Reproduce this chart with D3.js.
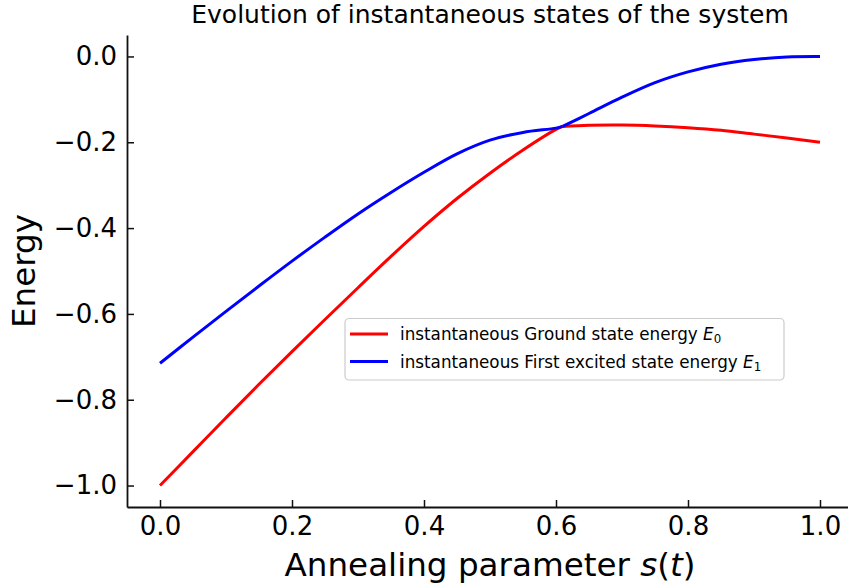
<!DOCTYPE html>
<html>
<head>
<meta charset="utf-8">
<script src="https://cdn.jsdelivr.net/npm/d3@7"></script>
<style>
  html, body { margin: 0; padding: 0; background: #fff; }
  svg { display: block; font-family: "DejaVu Sans", sans-serif; }
</style>
</head>
<body>
<svg id="chart" width="848" height="586"></svg>
<script>
// Annealing parameter samples
const sValues = [0, 0.05, 0.10, 0.15, 0.20, 0.25, 0.30, 0.35, 0.40, 0.45, 0.50, 0.55, 0.60, 0.61,
                 0.65, 0.70, 0.75, 0.80, 0.85, 0.90, 0.95, 1.00];
// Instantaneous ground state energy E0
const groundEnergy = [-1.000, -0.921, -0.842, -0.764, -0.688, -0.613, -0.539, -0.466, -0.396, -0.331,
                      -0.272, -0.218, -0.170, -0.163, -0.1605, -0.160, -0.162, -0.166, -0.172, -0.181,
                      -0.190, -0.200];
// Instantaneous first excited state energy E1
const excitedEnergy = [-0.715, -0.654, -0.594, -0.535, -0.477, -0.421, -0.367, -0.317, -0.270, -0.227,
                       -0.195, -0.177, -0.167, -0.163, -0.133, -0.095, -0.061, -0.036, -0.018, -0.007,
                       -0.001, 0.000];
// Level crossing point where the two curves meet
const crossingS = 0.61;
const xTicks = [0, 0.2, 0.4, 0.6, 0.8, 1.0];
const yTicks = [0, -0.2, -0.4, -0.6, -0.8, -1.0];
const seriesNames = ["instantaneous Ground state energy ", "instantaneous First excited state energy "];
const seriesSubs = ["0", "1"];
const seriesColors = ["#ff0000", "#0000ff"];

const svg = d3.select("#chart");
const plotLeft = 127, plotRight = 853, plotTop = 35, plotBottom = 507;

const x = d3.scaleLinear().domain([-0.05, 1.05]).range([plotLeft, plotRight]);
const y = d3.scaleLinear().domain([-1.05, 0.05]).range([plotBottom, plotTop]);

const fmt = d3.format(".1f");

// Axes with inward ticks, left and bottom spines only
const gx = svg.append("g")
  .attr("transform", `translate(0,${plotBottom})`)
  .call(d3.axisBottom(x).tickValues(xTicks).tickFormat(fmt)
        .tickSizeInner(-7).tickSizeOuter(0).tickPadding(10));
const gy = svg.append("g")
  .attr("transform", `translate(${plotLeft},0)`)
  .call(d3.axisLeft(y).tickValues(yTicks).tickFormat(fmt)
        .tickSizeInner(-7).tickSizeOuter(0).tickPadding(10));

[gx, gy].forEach(g => {
  g.select(".domain").attr("stroke", "#111").attr("stroke-width", 1.8);
  g.selectAll(".tick line").attr("stroke", "#111").attr("stroke-width", 1.5);
  g.selectAll(".tick text")
    .attr("font-family", "DejaVu Sans, sans-serif")
    .attr("font-size", 26)
    .attr("fill", "#000");
});

// Curves: smooth on each side of the level crossing, meeting at a corner there
const series = [groundEnergy, excitedEnergy];
const line = d3.line()
  .x(d => x(d[0]))
  .y(d => y(d[1]))
  .curve(d3.curveCatmullRom.alpha(0.5));
const split = sValues.indexOf(crossingS);

series.forEach((vals, k) => {
  const pts = sValues.map((s, i) => [s, vals[i]]);
  [pts.slice(0, split + 1), pts.slice(split)].forEach(seg => {
    svg.append("path")
      .datum(seg)
      .attr("fill", "none")
      .attr("stroke", seriesColors[k])
      .attr("stroke-width", 3)
      .attr("stroke-linejoin", "round")
      .attr("d", line);
  });
});

// Title and axis labels
svg.append("text")
  .attr("x", (plotLeft + plotRight) / 2).attr("y", 23)
  .attr("text-anchor", "middle")
  .attr("font-size", 25)
  .text("Evolution of instantaneous states of the system");

const xl = svg.append("text")
  .attr("x", (plotLeft + plotRight) / 2).attr("y", 576)
  .attr("text-anchor", "middle")
  .attr("font-size", 32.6);
xl.append("tspan").text("Annealing parameter ");
xl.append("tspan").attr("font-style", "italic").text("s");
xl.append("tspan").text("(");
xl.append("tspan").attr("font-style", "italic").text("t");
xl.append("tspan").text(")");

svg.append("text")
  .attr("transform", `translate(35,${(plotTop + plotBottom) / 2}) rotate(-90)`)
  .attr("text-anchor", "middle")
  .attr("font-size", 32.6)
  .text("Energy");

// Legend
const legend = svg.append("g");
legend.append("rect")
  .attr("x", 345).attr("y", 318.5)
  .attr("width", 439).attr("height", 61.5)
  .attr("rx", 4)
  .attr("fill", "#fff").attr("fill-opacity", 0.8)
  .attr("stroke", "#cccccc").attr("stroke-width", 1.2);

seriesNames.forEach((name, k) => {
  const cy = 334 + k * 27.5;
  legend.append("line")
    .attr("x1", 350).attr("x2", 388)
    .attr("y1", cy).attr("y2", cy)
    .attr("stroke", seriesColors[k]).attr("stroke-width", 3);
  const t = legend.append("text")
    .attr("x", 400).attr("y", cy + 6.3)
    .attr("font-size", 16.8);
  t.append("tspan").text(name);
  t.append("tspan").attr("font-style", "italic").text("E");
  t.append("tspan").attr("font-size", 11.8).attr("dy", 3).text(seriesSubs[k]);
});
</script>
</body>
</html>
